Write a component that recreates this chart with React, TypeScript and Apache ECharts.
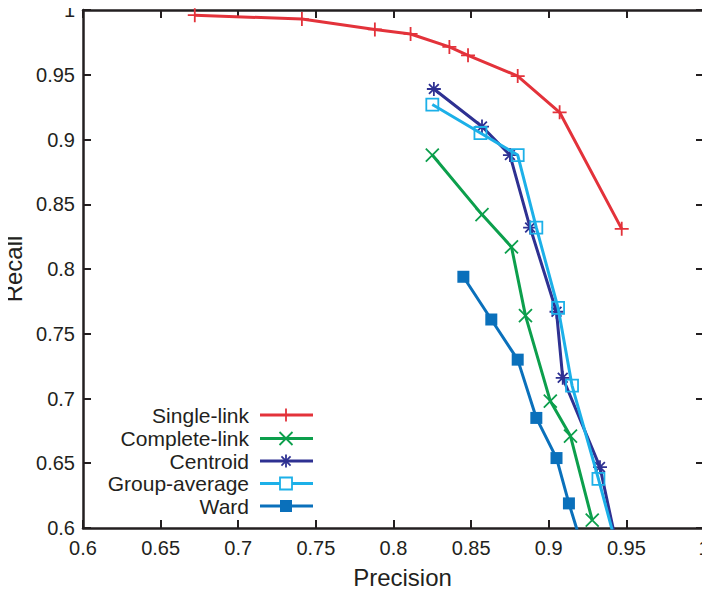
import React, { useEffect, useRef } from "react";
import * as echarts from "echarts";

const seriesNames = ["Single-link", "Complete-link", "Centroid", "Group-average", "Ward"];
const seriesColors = ["#e3323a", "#0c9f4c", "#2e3192", "#1cb0e8", "#0a70bb"];

const singleLink: number[][] = [
  [0.672, 0.996], [0.741, 0.993], [0.788, 0.985], [0.811, 0.9815], [0.836, 0.9715],
  [0.848, 0.965], [0.880, 0.949], [0.907, 0.921], [0.947, 0.831],
];
const completeLink: number[][] = [
  [0.825, 0.888], [0.857, 0.842], [0.876, 0.817], [0.885, 0.764], [0.901, 0.698],
  [0.914, 0.671], [0.928, 0.606],
];
const centroid: number[][] = [
  [0.826, 0.939], [0.857, 0.91], [0.875, 0.888], [0.888, 0.832], [0.905, 0.767],
  [0.909, 0.716], [0.933, 0.647], [0.945, 0.58],
];
const groupAverage: number[][] = [
  [0.825, 0.927], [0.856, 0.905], [0.880, 0.888], [0.892, 0.832], [0.906, 0.770],
  [0.915, 0.710], [0.932, 0.638], [0.945, 0.58],
];
const ward: number[][] = [
  [0.845, 0.794], [0.863, 0.761], [0.880, 0.730], [0.892, 0.685], [0.905, 0.654],
  [0.913, 0.619], [0.923, 0.58],
];
const xTicks = [0.6, 0.65, 0.7, 0.75, 0.8, 0.85, 0.9, 0.95, 1];
const yTicks = [0.6, 0.65, 0.7, 0.75, 0.8, 0.85, 0.9, 0.95, 1];
const xTitle = "Precision";
const yTitle = "Recall";

const PLUS = "path://M5,0 L5,10 M0,5 L10,5";
const CROSS = "path://M0,0 L10,10 M0,10 L10,0";
const STAR = "path://M5,0 L5,10 M0,5 L10,5 M1.5,1.5 L8.5,8.5 M1.5,8.5 L8.5,1.5";

const FONT = "Liberation Sans, Arial, Helvetica, sans-serif";
const INK = "#231f20";

function fmt(v: number): string {
  return String(parseFloat(v.toFixed(2)));
}

export default function App() {
  const ref = useRef<HTMLDivElement>(null);
  useEffect(() => {
    if (!ref.current) return;
    const chart = echarts.init(ref.current, undefined, { renderer: "svg" });
    const datasets = [singleLink, completeLink, centroid, groupAverage, ward];
    const symbols = [PLUS, CROSS, STAR, "rect", "rect"];
    const sizes = [14, 13, 14, 12, 12];

    const series: any[] = datasets.map((d, i) => {
      const c = seriesColors[i];
      const isHollow = i === 3;
      return {
        type: "line",
        name: seriesNames[i],
        data: d,
        xAxisIndex: 0,
        yAxisIndex: 0,
        symbol: symbols[i],
        symbolSize: sizes[i],
        showAllSymbol: true,
        clip: true,
        lineStyle: { color: c, width: 3 },
        itemStyle: {
          color: isHollow ? "rgba(0,0,0,0)" : c,
          borderColor: c,
          borderWidth: i === 4 ? 0 : 1.8,
        },
        emphasis: { disabled: true },
        z: 2 + i,
      };
    });

    const axisLine = { show: true, lineStyle: { color: INK, width: 2.5 } };
    const axisTick = { show: true, inside: true, length: 8, lineStyle: { color: INK, width: 2 } };
    const label = { color: INK, fontSize: 20, fontFamily: FONT, formatter: (v: number) => fmt(v) };
    const titleStyle = { color: INK, fontSize: 24, fontFamily: FONT };

    const legendYs = [415, 438.5, 461, 483.5, 506];
    const textRight = 249;
    const lx0 = 260;
    const lx1 = 313;
    const mx = 286;
    const graphics: any[] = [];
    seriesNames.forEach((name, i) => {
      const y = legendYs[i];
      const c = seriesColors[i];
      graphics.push({
        type: "text",
        x: textRight,
        y: y,
        style: {
          text: name, fill: INK, font: `21px ${FONT}`,
          textAlign: "right", textVerticalAlign: "middle", align: "right", verticalAlign: "middle",
        },
      });
      graphics.push({
        type: "line",
        shape: { x1: lx0, y1: y, x2: lx1, y2: y },
        style: { stroke: c, lineWidth: 3 },
      });
      const s = 6.5;
      const mk = (x1: number, y1: number, x2: number, y2: number) => ({
        type: "line",
        shape: { x1: mx + x1, y1: y + y1, x2: mx + x2, y2: y + y2 },
        style: { stroke: c, lineWidth: 1.8 },
      });
      if (i === 0) {
        graphics.push(mk(0, -s, 0, s));
      } else if (i === 1) {
        graphics.push(mk(-s, -s, s, s), mk(-s, s, s, -s));
      } else if (i === 2) {
        graphics.push(mk(0, -s, 0, s), mk(-s * 0.7, -s * 0.7, s * 0.7, s * 0.7), mk(-s * 0.7, s * 0.7, s * 0.7, -s * 0.7));
      } else if (i === 3) {
        graphics.push({
          type: "rect",
          shape: { x: mx - 6, y: y - 6, width: 12, height: 12 },
          style: { fill: "#fff", stroke: c, lineWidth: 1.8 },
        });
      } else {
        graphics.push({
          type: "rect",
          shape: { x: mx - 6, y: y - 6, width: 12, height: 12 },
          style: { fill: c },
        });
      }
    });

    chart.setOption({
      animation: false,
      backgroundColor: "#ffffff",
      grid: { left: 83, right: 6, top: 10, bottom: 66, containLabel: false, outerBoundsMode: "none" },
      xAxis: [
        {
          type: "value",
          min: xTicks[0],
          max: xTicks[xTicks.length - 1],
          interval: 0.05,
          position: "bottom",
          name: xTitle,
          nameLocation: "middle",
          nameGap: 37,
          nameTextStyle: { ...titleStyle, padding: [0, 0, 0, 18] },
          axisLine,
          axisTick,
          axisLabel: { ...label, margin: 10 },
          splitLine: { show: false },
        },
        {
          type: "value",
          min: xTicks[0],
          max: xTicks[xTicks.length - 1],
          interval: 0.05,
          position: "top",
          axisLine,
          axisTick,
          axisLabel: { show: false },
          splitLine: { show: false },
        },
      ],
      yAxis: [
        {
          type: "value",
          min: yTicks[0],
          max: yTicks[yTicks.length - 1],
          interval: 0.05,
          position: "left",
          name: yTitle,
          nameLocation: "middle",
          nameGap: 56,
          nameTextStyle: titleStyle,
          axisLine,
          axisTick,
          axisLabel: { ...label, margin: 8 },
          splitLine: { show: false },
        },
        {
          type: "value",
          min: yTicks[0],
          max: yTicks[yTicks.length - 1],
          interval: 0.05,
          position: "right",
          axisLine,
          axisTick,
          axisLabel: { show: false },
          splitLine: { show: false },
        },
      ],
      series,
      graphic: graphics,
    });
    return () => chart.dispose();
  }, []);
  return <div ref={ref} style={{ width: 710, height: 594, margin: -8 }} />;
}
